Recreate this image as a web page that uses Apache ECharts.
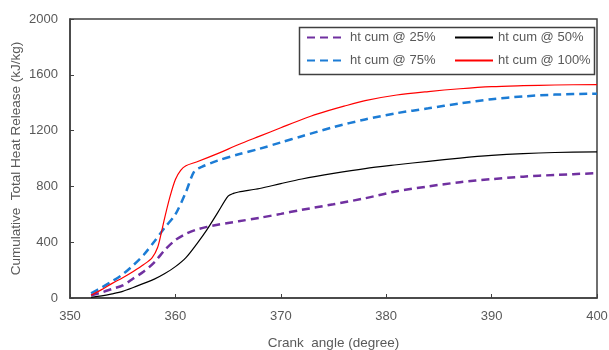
<!DOCTYPE html>
<html>
<head>
<meta charset="utf-8">
<script src="https://cdn.jsdelivr.net/npm/echarts@6/dist/echarts.min.js"></script>
<style>html,body{margin:0;padding:0;background:#fff;}#c{width:609px;height:350px;}</style>
</head>
<body>
<div id="c"></div>
<script>
const seriesNames = ['ht cum @ 25%', 'ht cum @ 50%', 'ht cum @ 75%', 'ht cum @ 100%'];
const xTicks = [350, 360, 370, 380, 390, 400];
const yTicks = [0, 400, 800, 1200, 1600, 2000];

const angle25 = [352,353,354,355,356,357,358,359,360,361,362,363,364,365,366,368,370,372,375,378,381,384,387,390,393,396,400];
const heat25  = [20,40,65,90,140,190,255,345,415,460,490,510,525,538,550,575,603,632,672,715,765,800,830,852,870,882,895];

const angle50 = [352,353,354,355,356,357,358,359,360,361,362,363,364,365,365.5,366,368,370,372,375,378,381,384,387,390,393,396,400];
const heat50  = [5,15,30,48,75,105,135,175,225,290,385,490,610,730,750,760,785,820,853,893,928,955,980,1003,1022,1035,1043,1048];

const angle75 = [352,353,354,355,356,357,358,359,360,361,361.8,362.5,364,366,368,370,372,375,378,381,384,387,390,393,396,400];
const heat75  = [34,75,120,170,235,310,405,505,600,760,910,940,985,1030,1070,1115,1160,1225,1280,1325,1360,1395,1425,1445,1458,1465];

const angle100 = [352,353,354,355,356,357,357.8,358.3,358.7,359,359.5,360,360.5,361,362,364,366,368,370,372,373.5,376,378,381,384,387,390,393,396,400];
const heat100  = [20,60,105,145,190,240,290,360,480,580,730,850,915,948,975,1035,1100,1160,1220,1280,1320,1375,1415,1455,1480,1500,1515,1522,1527,1530];

function pairs(xs, ys) { return xs.map((x, i) => [x, ys[i]]); }

const chart = echarts.init(document.getElementById('c'), null, {renderer: 'canvas'});
const txt = '#595959';
const axisCol = '#404040';
const font = 'Liberation Sans, Arial, sans-serif';
const legendText = {color: txt, fontSize: 13, fontFamily: font};

chart.setOption({
  animation: false,
  backgroundColor: '#fff',
  grid: {left: 70, right: 12, top: 19, bottom: 52, show: true, borderColor: axisCol, borderWidth: 1.5,
         containLabel: false, outerBoundsMode: 'none'},
  xAxis: {
    type: 'value', min: xTicks[0], max: xTicks[xTicks.length - 1], interval: 10,
    name: 'Crank  angle (degree)', nameLocation: 'middle', nameGap: 38,
    nameTextStyle: {color: txt, fontSize: 13.5, fontFamily: font},
    axisLine: {show: true, lineStyle: {color: axisCol, width: 1.5}},
    axisTick: {show: true, inside: true, length: 4, lineStyle: {color: axisCol}},
    axisLabel: {color: txt, fontSize: 13, fontFamily: font, margin: 12, formatter: v => String(v)},
    splitLine: {show: false}
  },
  yAxis: {
    type: 'value', min: yTicks[0], max: yTicks[yTicks.length - 1], interval: 400,
    name: 'Cumulative  Total Heat Release (kJ/kg)', nameLocation: 'middle', nameGap: 47, nameMoveOverlap: false,
    nameTextStyle: {color: txt, fontSize: 13.5, fontFamily: font},
    axisLine: {show: true, lineStyle: {color: axisCol, width: 1.5}},
    axisTick: {show: true, inside: true, length: 4, lineStyle: {color: axisCol}},
    axisLabel: {color: txt, fontSize: 13, fontFamily: font, margin: 12, formatter: v => String(v)},
    splitLine: {show: false}
  },
  legend: [
    {data: [seriesNames[0], seriesNames[2]], orient: 'vertical', left: 306, top: 31, padding: 0,
     itemWidth: 38, itemHeight: 14, itemGap: 10, textStyle: legendText, itemStyle: {opacity: 0}},
    {data: [seriesNames[1], seriesNames[3]], orient: 'vertical', left: 454, top: 31, padding: 0,
     itemWidth: 38, itemHeight: 14, itemGap: 10, textStyle: legendText, itemStyle: {opacity: 0}}
  ],
  graphic: [{type: 'rect', left: 297, top: 25, shape: {width: 295, height: 47},
    style: {fill: 'none', stroke: axisCol, lineWidth: 1.5}, z: 10}],
  series: [
    {name: seriesNames[0], type: 'line', data: pairs(angle25, heat25), showSymbol: false, symbol: 'none', smooth: 0.3,
     lineStyle: {color: '#7030A0', width: 2.5, type: [8, 5]}, itemStyle: {color: '#7030A0'}},
    {name: seriesNames[1], type: 'line', data: pairs(angle50, heat50), showSymbol: false, symbol: 'none', smooth: 0.3,
     lineStyle: {color: '#000000', width: 1.2}, itemStyle: {color: '#000000'}},
    {name: seriesNames[2], type: 'line', data: pairs(angle75, heat75), showSymbol: false, symbol: 'none', smooth: 0.3,
     lineStyle: {color: '#1C7CD5', width: 2.5, type: [8, 5]}, itemStyle: {color: '#1C7CD5'}},
    {name: seriesNames[3], type: 'line', data: pairs(angle100, heat100), showSymbol: false, symbol: 'none', smooth: 0.3,
     lineStyle: {color: '#FF0000', width: 1.2}, itemStyle: {color: '#FF0000'}}
  ]
});
</script>
</body>
</html>
